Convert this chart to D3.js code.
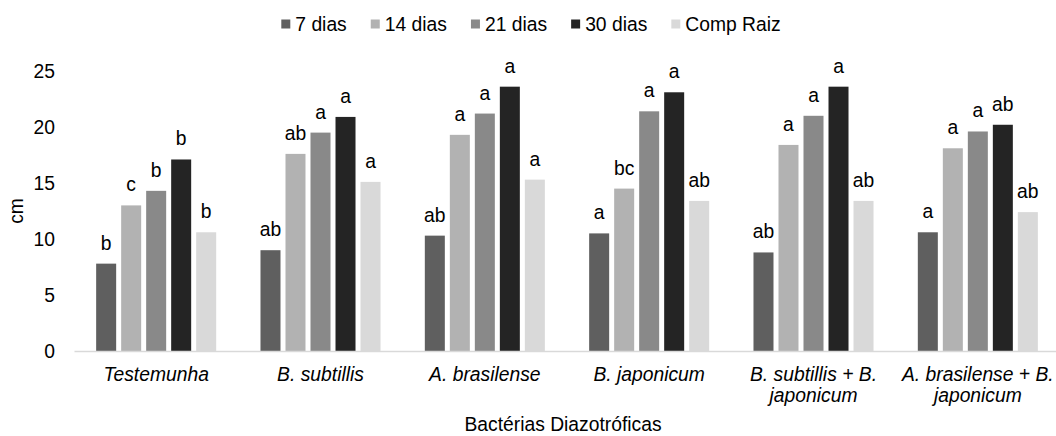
<!DOCTYPE html>
<html>
<head>
<meta charset="utf-8">
<script src="https://cdn.jsdelivr.net/npm/d3@7"></script>
<style>
  body { margin: 0; background: #fff; }
  svg { display: block; font-family: "Liberation Sans", Arial, sans-serif; }
</style>
</head>
<body>
<svg id="chart" width="1056" height="436"></svg>
<script>
const categories = [
  "Testemunha",
  "B. subtillis",
  "A. brasilense",
  "B. japonicum",
  "B. subtillis + B. japonicum",
  "A. brasilense + B. japonicum",
];
const seriesNames = ["7 dias", "14 dias", "21 dias", "30 dias", "Comp Raiz"];
const seriesColors = ["#5f5f5f", "#b2b2b2", "#898989", "#242424", "#d9d9d9"];

// one array per category, same order as seriesNames
const values = [
  [7.8, 13.0, 14.3, 17.1, 10.6],
  [9.0, 17.6, 19.5, 20.9, 15.1],
  [10.3, 19.3, 21.2, 23.6, 15.3],
  [10.5, 14.5, 21.4, 23.1, 13.4],
  [8.8, 18.4, 21.0, 23.6, 13.4],
  [10.6, 18.1, 19.6, 20.2, 12.4],
];
const letters = [
  ["b", "c", "b", "b", "b"],
  ["ab", "ab", "a", "a", "a"],
  ["ab", "a", "a", "a", "a"],
  ["a", "bc", "a", "a", "ab"],
  ["ab", "a", "a", "a", "ab"],
  ["a", "a", "a", "ab", "ab"],
];
const yTicks = [0, 5, 10, 15, 20, 25];

const fontSize = 19.3;
const svg = d3.select("#chart");

const x0 = d3.scaleBand().domain(categories).range([74, 1060]).padding(0);
const x1 = d3
  .scaleBand()
  .domain(seriesNames)
  .range([0, x0.bandwidth()])
  .paddingInner(0.2)
  .paddingOuter(0.886);
const y = d3.scaleLinear().domain([0, 25]).range([351, 71]);

// y axis: labels only
const yAxis = svg
  .append("g")
  .attr("transform", "translate(74,0)")
  .call(d3.axisLeft(y).tickValues(yTicks).tickSize(0).tickPadding(19));
yAxis.select(".domain").remove();
yAxis
  .selectAll("text")
  .attr("font-size", fontSize)
  .attr("font-family", "Liberation Sans, Arial, sans-serif")
  .attr("fill", "#000");

// bars
const groups = svg
  .append("g")
  .selectAll("g")
  .data(categories)
  .join("g")
  .attr("transform", (d) => `translate(${x0(d)},0)`);

groups
  .selectAll("rect")
  .data((d, i) => values[i].map((v, j) => ({ v, s: seriesNames[j], j })))
  .join("rect")
  .attr("x", (d) => x1(d.s))
  .attr("y", (d) => y(d.v))
  .attr("width", x1.bandwidth())
  .attr("height", (d) => y(0) - y(d.v))
  .attr("fill", (d) => seriesColors[d.j]);

groups
  .selectAll("text")
  .data((d, i) => values[i].map((v, j) => ({ v, s: seriesNames[j], t: letters[i][j] })))
  .join("text")
  .attr("x", (d) => x1(d.s) + x1.bandwidth() / 2)
  .attr("y", (d) => y(d.v) - 14)
  .attr("text-anchor", "middle")
  .attr("font-size", fontSize)
  .attr("fill", "#000")
  .text((d) => d.t);

// x axis
const xAxis = svg
  .append("g")
  .attr("transform", "translate(0,351)")
  .call(d3.axisBottom(x0).tickSize(0).tickPadding(0));
xAxis
  .select(".domain")
  .attr("stroke", "#d9d9d9")
  .attr("stroke-width", 1.6);
xAxis
  .selectAll(".tick text")
  .attr("font-size", fontSize)
  .attr("font-style", "italic")
  .attr("font-family", "Liberation Sans, Arial, sans-serif")
  .attr("fill", "#000")
  .attr("dy", null)
  .attr("y", 30)
  .call(wrap, x0.bandwidth() - 6);

function wrap(sel, width) {
  sel.each(function () {
    const text = d3.select(this);
    const words = text.text().split(/\s+/);
    text.text(null);
    let line = [];
    let lineNo = 0;
    let tspan = text.append("tspan").attr("x", 0).attr("y", 30);
    for (const w of words) {
      line.push(w);
      tspan.text(line.join(" "));
      if (tspan.node().getComputedTextLength() > width && line.length > 1) {
        line.pop();
        tspan.text(line.join(" "));
        line = [w];
        lineNo++;
        tspan = text
          .append("tspan")
          .attr("x", 0)
          .attr("y", 30 + lineNo * 21)
          .text(w);
      }
    }
  });
}

// axis titles
svg
  .append("text")
  .attr("x", 563)
  .attr("y", 431)
  .attr("text-anchor", "middle")
  .attr("font-size", fontSize)
  .attr("fill", "#000")
  .text("Bactérias Diazotróficas");

svg
  .append("text")
  .attr("transform", "translate(23,211) rotate(-90)")
  .attr("text-anchor", "middle")
  .attr("font-size", fontSize)
  .attr("fill", "#000")
  .text("cm");

// legend
const legend = svg.append("g");
let lx = 0;
seriesNames.forEach((name, i) => {
  const item = legend.append("g").attr("transform", `translate(${lx},0)`);
  item
    .append("rect")
    .attr("x", 0)
    .attr("y", 19.5)
    .attr("width", 9)
    .attr("height", 9)
    .attr("fill", seriesColors[i]);
  const t = item
    .append("text")
    .attr("x", 14)
    .attr("y", 30.5)
    .attr("font-size", fontSize)
    .attr("fill", "#000")
    .text(name);
  lx += 14 + t.node().getComputedTextLength() + 24;
});
const legendWidth = lx - 24;
legend.attr("transform", `translate(${531 - legendWidth / 2},0)`);
</script>
</body>
</html>
